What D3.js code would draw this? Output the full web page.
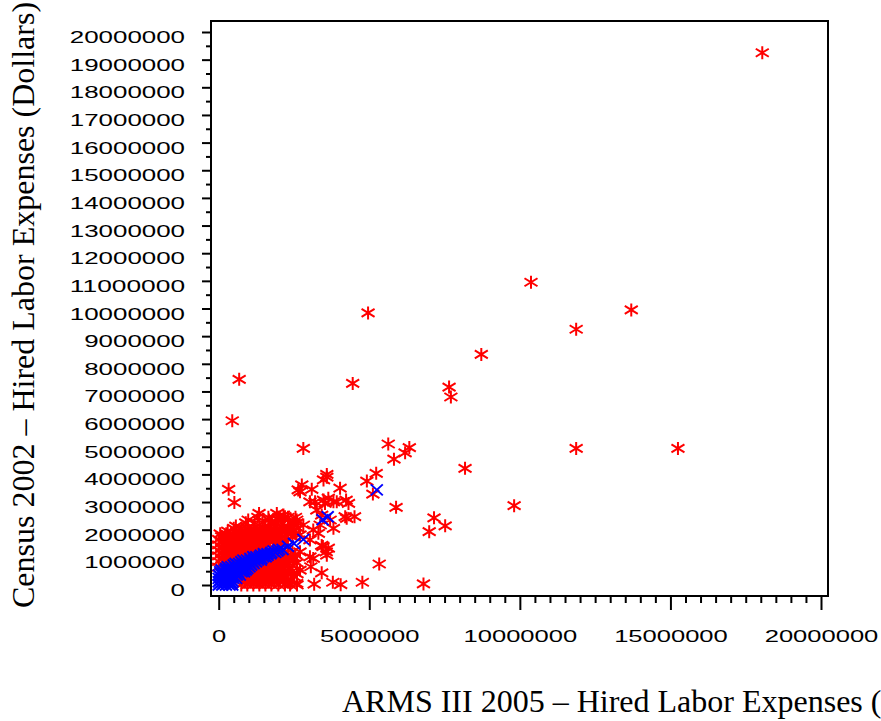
<!DOCTYPE html>
<html><head><meta charset="utf-8">
<script src="https://cdn.jsdelivr.net/npm/d3@7"></script>
<style>html,body{margin:0;padding:0;background:#fff;} svg{display:block;}</style>
</head><body>
<svg id="chart" width="881" height="721"></svg>
<script>
// ---- data (dollars) ----
const xTicks = [0, 5000000, 10000000, 15000000, 20000000];
const yTicks = [0, 1000000, 2000000, 3000000, 4000000, 5000000, 6000000, 7000000, 8000000, 9000000, 10000000,
  11000000, 12000000, 13000000, 14000000, 15000000, 16000000, 17000000, 18000000, 19000000, 20000000];
const xTitle = "ARMS III 2005 \u2013 Hired Labor Expenses (Dollars)";
const yTitle = "Census 2002 \u2013 Hired Labor Expenses (Dollars)";

// red series: isolated points
const redOutliers = [
 [18050000,19250000],[10370000,10950000],[13700000,9950000],[11870000,9250000],[4960000,9840000],
 [8720000,8340000],[680000,7440000],[4450000,7290000],[7650000,7160000],[7710000,6800000],
 [450000,5940000],[2810000,4940000],[5630000,5100000],[6330000,4970000],[6190000,4780000],
 [5820000,4550000],[11870000,4940000],[15250000,4940000],[8180000,4220000],[3590000,4000000],
 [3590000,3900000],[5230000,4040000],[4920000,3760000],[5120000,3290000],[9810000,2870000],
 [5890000,2810000],[7150000,2430000],[7520000,2140000],[6990000,1930000],[330000,3460000],
 [520000,2980000],[2760000,3620000],[3090000,3460000],[2640000,3440000],[4030000,3500000],
 [3480000,3800000]
];
// red series: mid-range points
const redMid = [
 [5330000,760000],[4770000,100000],[6800000,40000],[4050000,10000],[3790000,100000],[3170000,30000],
 [3590000,1080000],[3640000,1330000],[3460000,1390000],[3420000,440000],[4310000,2950000],[4510000,2470000],
 [4200000,2470000],[4230000,3070000],[3810000,3010000],[3480000,3070000],[3810000,2050000],[3310000,1870000],
 [3030000,1020000],[3060000,660000],[2700000,540000],[2370000,0],[1980000,0],[980000,2350000],
 [1340000,2590000],[570000,2130000],[870000,1870000],[1670000,2350000],[2200000,2470000],[1980000,2350000],
 [1760000,2240000],[3370000,2170000],[3140000,1990000],[3140000,960000],[2590000,60000],[3030000,1630000],
 [2700000,1810000],[2810000,2170000],[2590000,2350000],[2150000,2530000],[3030000,3010000],[2700000,3370000],
 [3200000,3010000],[3260000,2710000],[3420000,2530000],[3530000,2950000],[3640000,3140000],[3920000,3010000],
 [4250000,2410000],[3700000,2350000],[1930000,2590000],[2480000,2230000],[3570000,1200000],[3420000,1430000]
];
// red series: dense cluster above the diagonal
const redDenseUpper = [
 [0,650000],[200000,650000],
 [0,850000],[200000,850000],[400000,850000],[600000,850000],
 [100000,950000],[300000,950000],[500000,950000],[700000,950000],
 [0,1050000],[200000,1050000],[400000,1050000],[600000,1050000],[800000,1050000],[1000000,1050000],[1200000,1050000],
 [100000,1150000],[300000,1150000],[500000,1150000],[700000,1150000],[900000,1150000],[1100000,1150000],[1300000,1150000],
 [0,1250000],[200000,1250000],[400000,1250000],[600000,1250000],[800000,1250000],[1000000,1250000],[1200000,1250000],[1400000,1250000],[1600000,1250000],
 [100000,1350000],[300000,1350000],[500000,1350000],[700000,1350000],[900000,1350000],[1100000,1350000],[1300000,1350000],[1500000,1350000],[1800000,1350000],[2000000,1350000],
 [0,1450000],[200000,1450000],[400000,1450000],[600000,1450000],[800000,1450000],[1000000,1450000],[1200000,1450000],[1400000,1450000],[1600000,1450000],[1900000,1450000],[2100000,1450000],
 [100000,1550000],[300000,1550000],[500000,1550000],[700000,1550000],[900000,1550000],[1100000,1550000],[1300000,1550000],[1500000,1550000],[1700000,1550000],[2000000,1550000],[2200000,1550000],
 [0,1650000],[200000,1650000],[400000,1650000],[600000,1650000],[800000,1650000],[1000000,1650000],[1200000,1650000],[1400000,1650000],[1600000,1650000],[1800000,1650000],[2000000,1650000],[2300000,1650000],
 [100000,1750000],[300000,1750000],[500000,1750000],[700000,1750000],[900000,1750000],[1100000,1750000],[1300000,1750000],[1500000,1750000],[1700000,1750000],[1900000,1750000],[2100000,1750000],[2450000,1750000],
 [50000,1850000],[250000,1850000],[450000,1850000],[650000,1850000],[850000,1850000],[1050000,1850000],[1250000,1850000],[1450000,1850000],[1650000,1850000],[1850000,1850000],[2050000,1850000],[2300000,1850000],[2550000,1850000],
 [300000,1950000],[600000,1950000],[850000,1950000],[1050000,1950000],[1250000,1950000],[1450000,1950000],[1650000,1950000],[1850000,1950000],[2050000,1950000],[2250000,1950000],[2500000,1950000],
 [500000,2050000],[750000,2050000],[950000,2050000],[1150000,2050000],[1350000,2050000],[1550000,2050000],[1750000,2050000],[1950000,2050000],[2150000,2050000],[2400000,2050000],[2650000,2050000],
 [900000,2250000],[1200000,2250000],[1450000,2250000],[1700000,2250000],[1900000,2250000],[2100000,2250000],[2350000,2250000],[2600000,2250000],
 [1300000,2450000],[1650000,2450000],[2000000,2450000],[2300000,2450000],[2550000,2450000]
];
// red series: dense cluster below the diagonal
const redDenseLower = [
 [750000,0],[950000,0],[1150000,0],[1350000,0],[1550000,0],[1750000,0],[2200000,0],[2600000,0],
 [850000,100000],[1050000,100000],[1250000,100000],[1450000,100000],[1650000,100000],[1850000,100000],[2050000,100000],[2300000,100000],
 [750000,200000],[950000,200000],[1150000,200000],[1350000,200000],[1550000,200000],[1750000,200000],[1950000,200000],[2150000,200000],[2400000,200000],
 [850000,300000],[1050000,300000],[1250000,300000],[1450000,300000],[1650000,300000],[1850000,300000],[2050000,300000],[2250000,300000],[2500000,300000],
 [900000,400000],[1100000,400000],[1300000,400000],[1500000,400000],[1700000,400000],[1900000,400000],[2100000,400000],[2300000,400000],[2600000,400000],
 [1000000,500000],[1200000,500000],[1400000,500000],[1600000,500000],[1800000,500000],[2000000,500000],[2200000,500000],[2450000,500000],
 [1100000,600000],[1300000,600000],[1500000,600000],[1700000,600000],[1900000,600000],[2100000,600000],[2350000,600000],
 [1200000,700000],[1400000,700000],[1600000,700000],[1800000,700000],[2000000,700000],[2200000,700000],[2450000,700000],
 [1300000,800000],[1500000,800000],[1700000,800000],[1900000,800000],[2100000,800000],[2300000,800000],[2600000,800000],
 [1500000,900000],[1700000,900000],[1900000,900000],[2100000,900000],[2300000,900000],
 [1700000,1000000],[1900000,1000000],[2100000,1000000],[2300000,1000000],[2500000,1000000],
 [1850000,1100000],[2050000,1100000],[2300000,1100000],[2550000,1100000],
 [2000000,1200000],[2200000,1200000],[2450000,1200000],[2700000,1200000]
];
// blue series
const bluePoints = [
 [0,0],[120000,0],[240000,0],[360000,0],[450000,0],
 [60000,60000],[180000,60000],[300000,60000],[420000,60000],
 [0,120000],[120000,120000],[240000,120000],[360000,120000],[460000,120000],
 [60000,180000],[180000,180000],[300000,180000],[420000,180000],
 [0,240000],[120000,240000],[240000,240000],[360000,240000],[480000,240000],[580000,240000],
 [60000,300000],[180000,300000],[300000,300000],[420000,300000],[530000,300000],
 [0,360000],[120000,360000],[240000,360000],[360000,360000],[480000,360000],[600000,360000],[700000,360000],
 [60000,420000],[180000,420000],[300000,420000],[420000,420000],[540000,420000],[660000,420000],
 [50000,480000],[160000,480000],[280000,480000],[400000,480000],[520000,480000],[640000,480000],[760000,480000],[840000,480000],
 [100000,540000],[220000,540000],[340000,540000],[460000,540000],[580000,540000],[700000,540000],[820000,540000],[900000,540000],
 [250000,600000],[360000,600000],[480000,600000],[600000,600000],[720000,600000],[840000,600000],[950000,600000],
 [300000,660000],[420000,660000],[540000,660000],[660000,660000],[780000,660000],[900000,660000],[1020000,660000],
 [500000,720000],[620000,720000],[740000,720000],[860000,720000],[980000,720000],[1080000,720000],
 [560000,780000],[680000,780000],[800000,780000],[920000,780000],[1040000,780000],[1160000,780000],
 [750000,840000],[880000,840000],[1000000,840000],[1120000,840000],[1240000,840000],
 [820000,900000],[940000,900000],[1060000,900000],[1180000,900000],[1300000,900000],[1400000,900000],
 [1050000,960000],[1180000,960000],[1300000,960000],[1420000,960000],
 [1150000,1020000],[1250000,1020000],[1360000,1020000],[1480000,1020000],[1560000,1020000],
 [1400000,1080000],[1520000,1080000],[1620000,1080000],
 [1500000,1130000],[1620000,1130000],[1720000,1130000],
 [1750000,1180000],[1880000,1180000],
 [1820000,1230000],[1950000,1230000],
 [2000000,1280000],[2120000,1280000],
 [2300000,1400000],[2500000,1500000],
 [2810000,1650000],[3450000,2360000],[3620000,2470000],[5250000,3440000]
];
const redPoints = redOutliers.concat(redMid, redDenseUpper, redDenseLower);

// ---- layout ----
const svg = d3.select("#chart");
const frame = {left: 211, right: 828, top: 21, bottom: 596};
const x = d3.scaleLinear().domain([0, 20000000]).range([218.7, 821]);
const y = d3.scaleLinear().domain([0, 20000000]).range([585, 32]);
const fmt = d3.format("d");

// frame
svg.append("rect")
  .attr("x", frame.left).attr("y", frame.top)
  .attr("width", frame.right - frame.left).attr("height", frame.bottom - frame.top)
  .attr("fill", "none").attr("stroke", "#000").attr("stroke-width", 2);

// minor ticks
const yMinor = d3.range(500000, 20000000, 1000000);
const xMinor = d3.range(0, 20000001, 500000).filter(v => v % 5000000 !== 0);
svg.append("g").attr("transform", `translate(${frame.left},0)`)
  .call(d3.axisLeft(y).tickValues(yMinor).tickSize(5).tickFormat(""))
  .call(g => g.select(".domain").remove())
  .call(g => g.selectAll("line").attr("stroke-width", 2));
svg.append("g").attr("transform", `translate(0,${frame.bottom})`)
  .call(d3.axisBottom(x).tickValues(xMinor).tickSize(7).tickFormat(""))
  .call(g => g.select(".domain").remove())
  .call(g => g.selectAll("line").attr("stroke-width", 2));

// major ticks + labels
const yAxis = svg.append("g").attr("transform", `translate(${frame.left},0)`)
  .call(d3.axisLeft(y).tickValues(yTicks).tickSize(9).tickPadding(17).tickFormat(fmt));
yAxis.select(".domain").remove();
yAxis.selectAll("line").attr("stroke-width", 2);
yAxis.selectAll("text")
  .attr("font-family", "'Liberation Sans', Arial, sans-serif")
  .attr("font-size", 17).attr("fill", "#000")
  .attr("dy", "0.62em")
  .attr("textLength", d => fmt(d).length * 14.4)
  .attr("lengthAdjust", "spacingAndGlyphs");

const xAxis = svg.append("g").attr("transform", `translate(0,${frame.bottom})`)
  .call(d3.axisBottom(x).tickValues(xTicks).tickSize(14).tickPadding(20).tickFormat(fmt));
xAxis.select(".domain").remove();
xAxis.selectAll("line").attr("stroke-width", 2);
xAxis.selectAll("text")
  .attr("font-family", "'Liberation Sans', Arial, sans-serif")
  .attr("font-size", 17).attr("fill", "#000")
  .attr("textLength", d => fmt(d).length * 14.2)
  .attr("lengthAdjust", "spacingAndGlyphs");

// titles
svg.append("text")
  .attr("transform", "translate(34,608) rotate(-90)")
  .attr("font-family", "'Liberation Serif', 'Times New Roman', serif")
  .attr("font-size", 32).attr("fill", "#000")
  .text(yTitle);
svg.append("text")
  .attr("x", 342).attr("y", 712)
  .attr("font-family", "'Liberation Serif', 'Times New Roman', serif")
  .attr("font-size", 32).attr("fill", "#000")
  .text(xTitle);

// markers
const starPath = "M0,-6.5L0,6.5M-6.5,-4L6.5,4M-6.5,4L6.5,-4";
const crossPath = "M-6,-5.5L6,5.5M-6,5.5L6,-5.5";
svg.append("g").selectAll("path.red").data(redPoints).join("path")
  .attr("class", "red")
  .attr("transform", d => `translate(${x(d[0])},${y(d[1])})`)
  .attr("d", starPath)
  .attr("fill", "none").attr("stroke", "#ff0000").attr("stroke-width", 2);
svg.append("g").selectAll("path.blue").data(bluePoints).join("path")
  .attr("class", "blue")
  .attr("transform", d => `translate(${x(d[0])},${y(d[1])})`)
  .attr("d", crossPath)
  .attr("fill", "none").attr("stroke", "#0000ff").attr("stroke-width", 2);
</script>
</body></html>
